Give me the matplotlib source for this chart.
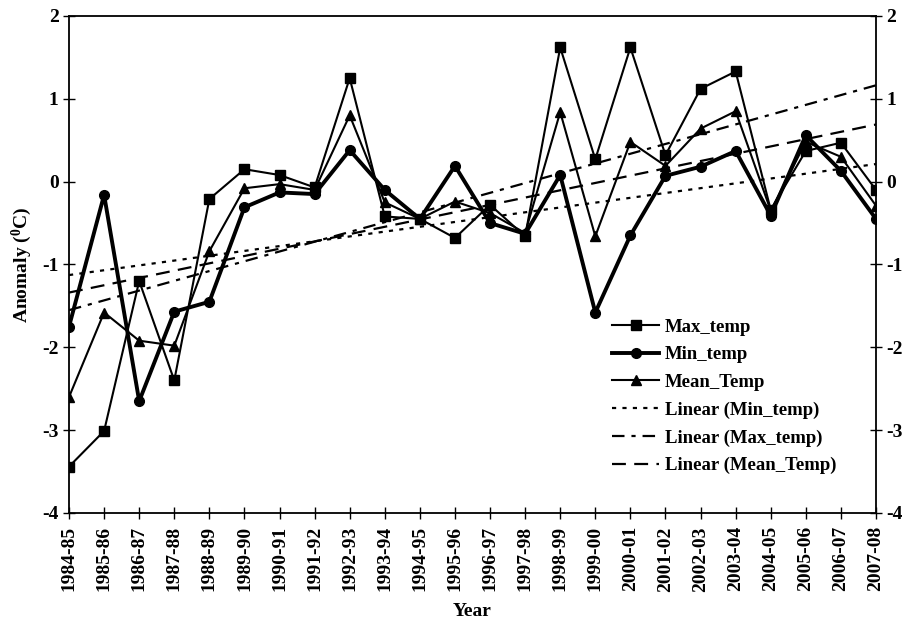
import matplotlib
matplotlib.use("Agg")
import matplotlib.pyplot as plt
import numpy as np

plt.rcParams['font.family'] = ['Liberation Serif', 'DejaVu Serif']
plt.rcParams['font.weight'] = 'bold'
plt.rcParams['mathtext.fontset'] = 'custom'
plt.rcParams['mathtext.rm'] = 'Liberation Serif:bold'
plt.rcParams['mathtext.bf'] = 'Liberation Serif:bold'
plt.rcParams['lines.scale_dashes'] = False
plt.rcParams['axes.unicode_minus'] = False

years = ['1984-85', '1985-86', '1986-87', '1987-88', '1988-89', '1989-90',
         '1990-91', '1991-92', '1992-93', '1993-94', '1994-95', '1995-96',
         '1996-97', '1997-98', '1998-99', '1999-00', '2000-01', '2001-02',
         '2002-03', '2003-04', '2004-05', '2005-06', '2006-07', '2007-08']

max_temp = [-3.44, -3.01, -1.20, -2.40, -0.21, 0.15, 0.08, -0.07, 1.25, -0.42,
            -0.45, -0.68, -0.28, -0.66, 1.62, 0.27, 1.62, 0.32, 1.12, 1.33,
            -0.34, 0.37, 0.47, -0.10]
min_temp = [-1.75, -0.16, -2.65, -1.57, -1.45, -0.31, -0.13, -0.15, 0.38, -0.10,
            -0.45, 0.19, -0.50, -0.63, 0.08, -1.58, -0.65, 0.07, 0.18, 0.37,
            -0.41, 0.56, 0.13, -0.45]
mean_temp = [-2.60, -1.58, -1.92, -1.98, -0.84, -0.08, -0.03, -0.10, 0.80, -0.25,
             -0.45, -0.24, -0.38, -0.62, 0.84, -0.66, 0.48, 0.19, 0.64, 0.85,
             -0.35, 0.48, 0.30, -0.29]

x = np.arange(len(years))

fig = plt.figure(figsize=(9.07, 6.24), dpi=100)
ax = fig.add_axes([0.0761, 0.1779, 0.8897, 0.7965])

ax.plot(x, max_temp, color='black', lw=1.5, marker='s', ms=7.5, label='Max_temp')
ax.plot(x, min_temp, color='black', lw=2.8, marker='o', ms=7, label='Min_temp')
ax.plot(x, mean_temp, color='black', lw=1.5, marker='^', ms=7, label='Mean_Temp')

# linear trends
p_min = np.polyfit(x, min_temp, 1)
p_max = np.polyfit(x, max_temp, 1)
p_mean = np.polyfit(x, mean_temp, 1)
ax.plot(x, np.polyval(p_min, x), color='black', lw=1.6, dashes=(3, 4.5),
        label='Linear (Min_temp)')
ax.plot(x, np.polyval(p_max, x), color='black', lw=1.6, dashes=(9, 5, 3, 5),
        label='Linear (Max_temp)')
ax.plot(x, np.polyval(p_mean, x), color='black', lw=1.6, dashes=(10, 6),
        label='Linear (Mean_Temp)')

ax.set_xlim(0, len(years) - 1)
ax.set_ylim(-4, 2)
ax.set_yticks([-4, -3, -2, -1, 0, 1, 2])
ax.set_xticks(x)
ax.set_xticklabels(years, rotation=90, fontsize=14, fontweight='bold')
ax.tick_params(axis='y', labelsize=14, direction='inout', length=9, width=1,
               right=True, labelright=True, pad=3)
ax.tick_params(axis='x', direction='inout', length=9, width=1, pad=5)
for s in ax.spines.values():
    s.set_linewidth(1.3)

ax.set_xlabel('Year', fontsize=14, fontweight='bold', labelpad=8)
ax.set_ylabel(r'Anomaly ($\mathregular{^0}$C)', fontsize=14, fontweight='bold', labelpad=6)

leg = ax.legend(loc='upper left', bbox_to_anchor=(0.673, 0.391), frameon=False,
                fontsize=13.5, handlelength=2.5, handletextpad=0.3, labelspacing=0.56,
                borderpad=0, borderaxespad=0)

fig.savefig('out.png', dpi=100)
